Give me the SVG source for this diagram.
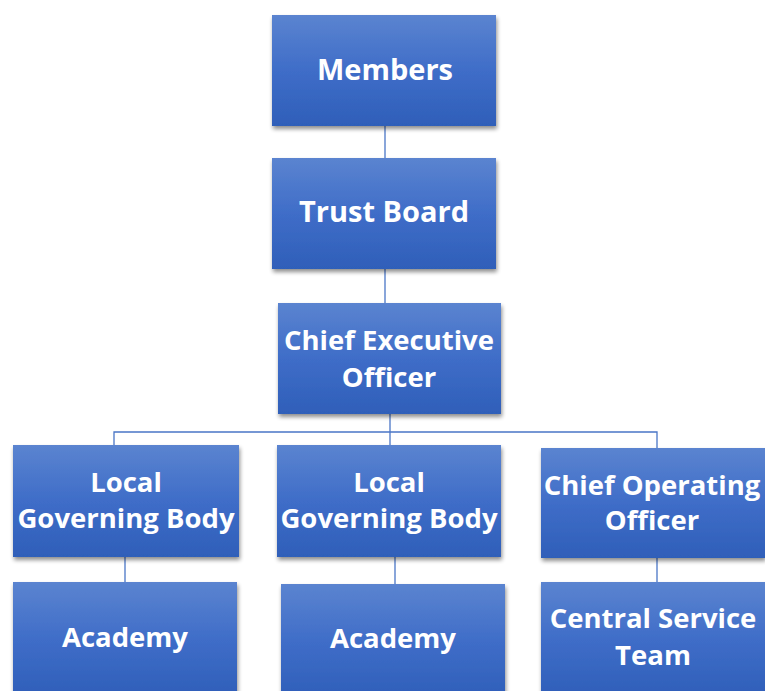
<svg xmlns="http://www.w3.org/2000/svg" width="765" height="691" viewBox="0 0 765 691">
<defs>
<linearGradient id="g" x1="0" y1="0" x2="0" y2="1">
<stop offset="0" stop-color="#5b84d0"/>
<stop offset="0.5" stop-color="#3f6dc8"/>
<stop offset="1" stop-color="#2f5fb9"/>
</linearGradient>
<filter id="sh" x="-10%" y="-10%" width="125%" height="130%">
<feGaussianBlur in="SourceAlpha" stdDeviation="2"/>
<feOffset dx="1" dy="3" result="b"/>
<feComponentTransfer><feFuncA type="linear" slope="0.45"/></feComponentTransfer>
<feMerge><feMergeNode/><feMergeNode in="SourceGraphic"/></feMerge>
</filter>
</defs>
<style>
.box{fill:url(#g);filter:url(#sh)}
.t{font-family:"Open Sans","Liberation Sans",sans-serif;font-weight:bold;font-size:27.5px;fill:#fff;text-anchor:middle;font-variant-ligatures:none}
.big{font-size:29px}
.c{stroke:#4a76c6;stroke-width:1.3;fill:none}
</style>
<rect width="765" height="691" fill="#fff"/>
<g id="connectors">
<line class="c" x1="385" y1="126" x2="385" y2="158"/>
<line class="c" x1="385" y1="269" x2="385" y2="303"/>
<line class="c" x1="390" y1="414" x2="390" y2="445"/>
<polyline class="c" points="114,445 114,432 657,432 657,448"/>
<line class="c" x1="125" y1="557" x2="125" y2="582"/>
<line class="c" x1="395" y1="557" x2="395" y2="584"/>
<line class="c" x1="657" y1="558" x2="657" y2="582"/>
</g>
<g id="members"><rect class="box" x="272" y="15" width="224" height="111"/><text class="t big" x="385" y="80">Members</text></g>
<g id="trust-board"><rect class="box" x="272" y="158" width="224" height="111"/><text class="t big" x="384" y="222">Trust Board</text></g>
<g id="ceo"><rect class="box" x="278" y="303" width="223" height="111"/><text class="t" x="389" y="350">Chief Executive</text><text class="t" x="389" y="387">Officer</text></g>
<g id="lgb1"><rect class="box" x="13" y="445" width="226" height="112"/><text class="t" x="126" y="492">Local</text><text class="t" x="126" y="528">Governing Body</text></g>
<g id="lgb2"><rect class="box" x="277" y="445" width="224" height="112"/><text class="t" x="389" y="492">Local</text><text class="t" x="389" y="528">Governing Body</text></g>
<g id="coo"><rect class="box" x="541" y="448" width="224" height="110"/><text class="t" x="652" y="495">Chief Operating</text><text class="t" x="652" y="530">Officer</text></g>
<g id="academy1"><rect class="box" x="13" y="582" width="224" height="115"/><text class="t" x="125" y="647">Academy</text></g>
<g id="academy2"><rect class="box" x="281" y="584" width="224" height="115"/><text class="t" x="393" y="648">Academy</text></g>
<g id="cst"><rect class="box" x="541" y="582" width="226" height="115"/><text class="t" x="653" y="628">Central Service</text><text class="t" x="653" y="665">Team</text></g>
</svg>
